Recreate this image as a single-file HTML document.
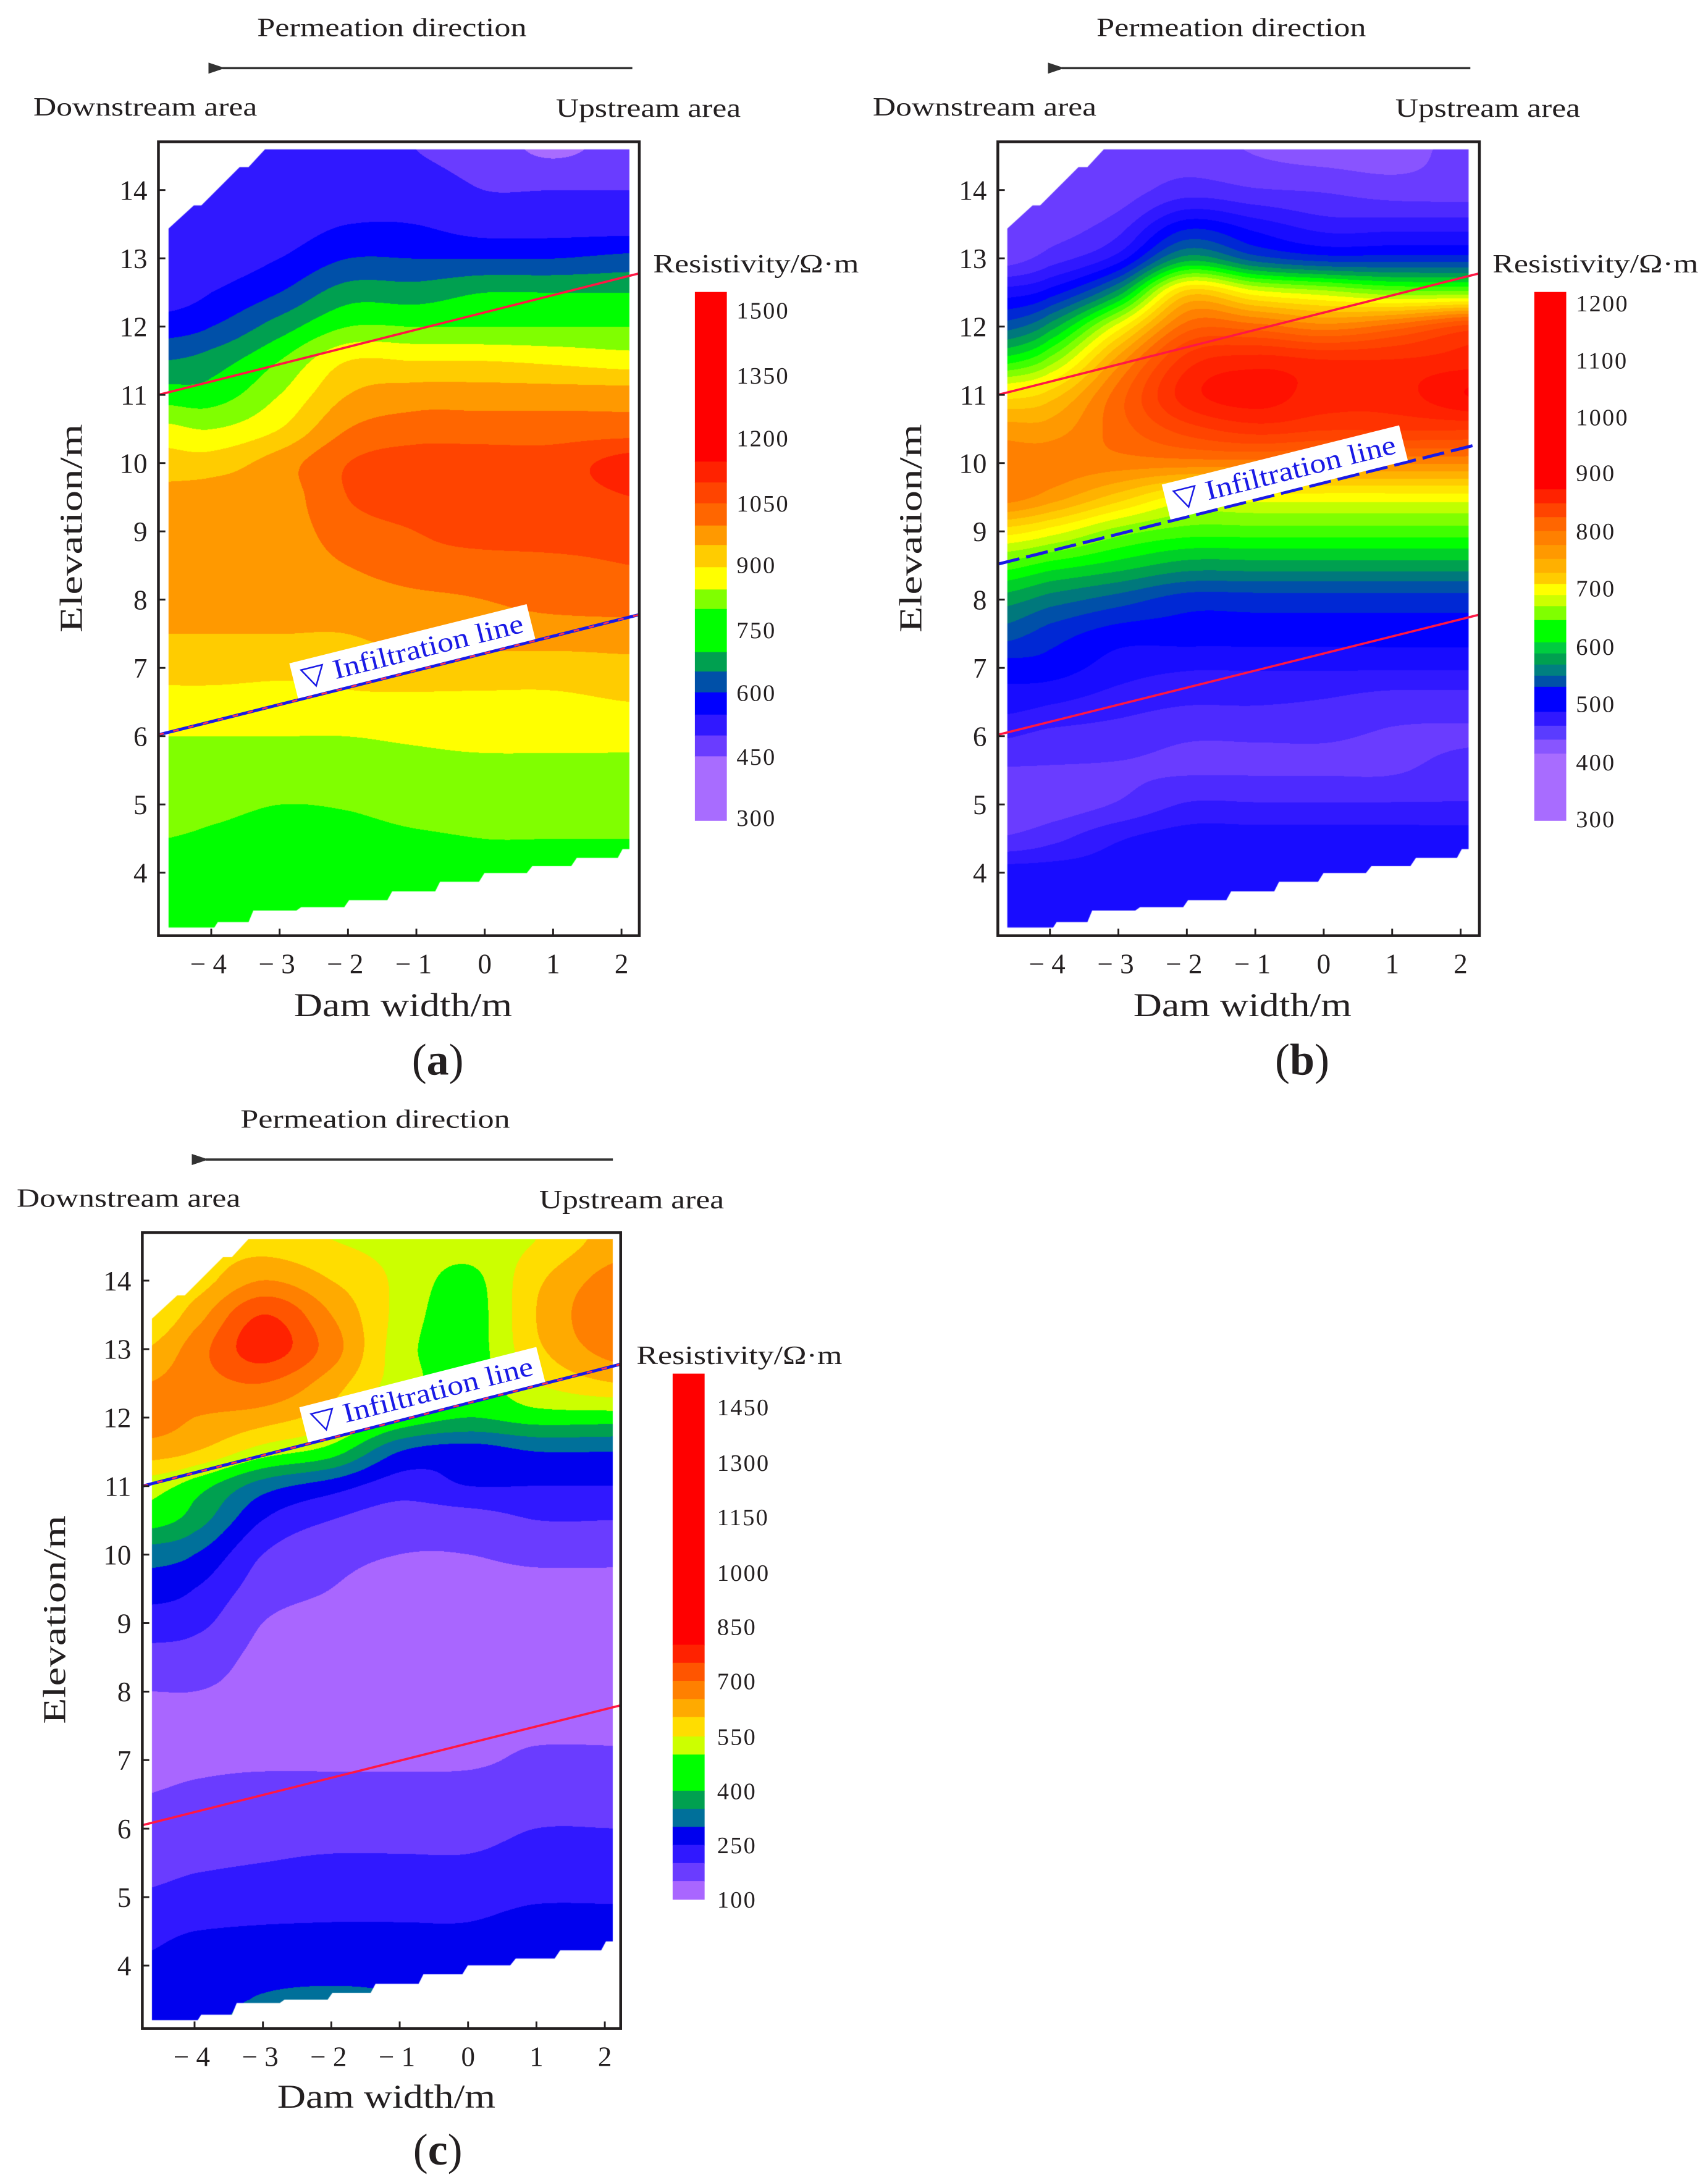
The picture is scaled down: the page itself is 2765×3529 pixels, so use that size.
<!DOCTYPE html>
<html><head><meta charset="utf-8">
<style>
html,body{margin:0;padding:0;background:#fff;}
#wrap{position:relative;width:2765px;height:3529px;overflow:hidden;background:#fff;}
canvas{position:absolute;}
#ov{position:absolute;left:0;top:0;}
text{font-family:"Liberation Serif",serif;fill:#231f20;}
</style></head>
<body>
<div id="wrap">
<canvas id="cA"></canvas>
<canvas id="cB"></canvas>
<canvas id="cC"></canvas>
<svg id="ov" width="2765" height="3529" viewBox="0 0 1229 1568" preserveAspectRatio="none">
 <defs><marker id="ah" markerWidth="12" markerHeight="8" refX="2" refY="4" orient="auto" markerUnits="userSpaceOnUse"><path d="M12,0 L0,4 L12,8 z" fill="#333"/></marker></defs>
 <g>
  <text x="185" y="26" font-size="19" textLength="194" lengthAdjust="spacingAndGlyphs">Permeation direction</text>
  <line x1="455" y1="49" x2="160" y2="49" stroke="#333" stroke-width="1.6" marker-end="url(#ah)"/>
  <text x="24" y="83" font-size="19" textLength="161" lengthAdjust="spacingAndGlyphs">Downstream area</text>
  <text x="400" y="84" font-size="19" textLength="133" lengthAdjust="spacingAndGlyphs">Upstream area</text>
 </g>
 <g>
  <text x="789" y="26" font-size="19" textLength="194" lengthAdjust="spacingAndGlyphs">Permeation direction</text>
  <line x1="1058" y1="49" x2="764" y2="49" stroke="#333" stroke-width="1.6" marker-end="url(#ah)"/>
  <text x="628" y="83" font-size="19" textLength="161" lengthAdjust="spacingAndGlyphs">Downstream area</text>
  <text x="1004" y="84" font-size="19" textLength="133" lengthAdjust="spacingAndGlyphs">Upstream area</text>
 </g>
 <g>
  <text x="173" y="811" font-size="19" textLength="194" lengthAdjust="spacingAndGlyphs">Permeation direction</text>
  <line x1="441" y1="834" x2="148" y2="834" stroke="#333" stroke-width="1.6" marker-end="url(#ah)"/>
  <text x="12" y="868" font-size="19" textLength="161" lengthAdjust="spacingAndGlyphs">Downstream area</text>
  <text x="388" y="869" font-size="19" textLength="133" lengthAdjust="spacingAndGlyphs">Upstream area</text>
 </g>
 <text x="59" y="380" font-size="23" text-anchor="middle" textLength="150" lengthAdjust="spacingAndGlyphs" transform="rotate(-90 59 380)">Elevation/m</text>
 <text x="663" y="380" font-size="23" text-anchor="middle" textLength="150" lengthAdjust="spacingAndGlyphs" transform="rotate(-90 663 380)">Elevation/m</text>
 <text x="47" y="1165" font-size="23" text-anchor="middle" textLength="150" lengthAdjust="spacingAndGlyphs" transform="rotate(-90 47 1165)">Elevation/m</text>
 <text x="290" y="731" font-size="24" text-anchor="middle" textLength="157" lengthAdjust="spacingAndGlyphs">Dam width/m</text>
 <text x="894" y="731" font-size="24" text-anchor="middle" textLength="157" lengthAdjust="spacingAndGlyphs">Dam width/m</text>
 <text x="278" y="1516" font-size="24" text-anchor="middle" textLength="157" lengthAdjust="spacingAndGlyphs">Dam width/m</text>
 <text x="315" y="773" font-size="32" text-anchor="middle">(<tspan font-weight="bold">a</tspan>)</text>
 <text x="937" y="773" font-size="32" text-anchor="middle">(<tspan font-weight="bold">b</tspan>)</text>
 <text x="315" y="1557" font-size="32" text-anchor="middle">(<tspan font-weight="bold">c</tspan>)</text>
 <text x="470" y="196" font-size="19" textLength="148" lengthAdjust="spacingAndGlyphs">Resistivity/Ω·m</text>
 <text x="1074" y="196" font-size="19" textLength="148" lengthAdjust="spacingAndGlyphs">Resistivity/Ω·m</text>
 <text x="458" y="981" font-size="19" textLength="148" lengthAdjust="spacingAndGlyphs">Resistivity/Ω·m</text>
 <g id="dyn"></g>
</svg>
</div>
<script>
// grid axes (data coordinates)
const gridX=[-4.7,-4,-3,-2,-1,0,1,2.2];
const gridE=[14.6,14,13.5,13,12.5,12,11.5,11,10.5,10,9.5,9,8.5,8,7.5,7,6.5,6,5.5,5,4.5,4,3.5,3.2];
// resistivity band index (0 = lowest band of colorbar)
const levelA=[
[2,2,2,2,1.5,1,0.3,1],[2,2,2,2,2,1.5,1.5,1.5],[2,2,2,2.5,2.5,2,2,2],[2,2,2.5,3.5,3.5,3.5,3.5,3.8],
[2,2.5,3.5,5,5,5.5,5.5,5.5],[3,3.5,5,6.5,6.5,6.5,6.5,6.5],[4.5,5,6.5,8.5,8.5,8.5,8.3,8],[6,6,7.5,9.5,10,10,10,10],
[7.8,7.5,8.5,10.5,11,11,11,11],[9,9,10,11.5,12,12,12,13],[9.8,10,10,11.5,12,12,12,12.5],[10,10,10,11,11.5,12,12,12],
[10,10,10,10.5,11,11,11.2,11.5],[10,10,10,10,10.3,10.5,10.8,11],[9.5,9.5,9.5,9.5,10,10,10,10],[9,9,8.8,8.8,9,9,9,9.2],
[8,8,8,8.3,8.3,8.3,8.3,8.5],[7.5,7.5,7.5,7.5,7.7,8,8,8],[7,7,7,7,7,7,7,7],[7,6.8,6.5,6.6,7,7,7,7],
[6.5,6.3,6,6,6.3,6.5,6.5,6.5],[6,6,6,6,6,6,6,6],[6,6,6,6,6,6,6,6],[6,6,6,6,6,6,6,6]];
const levelB=[
[1,1,1,1,0.7,0.5,0.5,1],[1,1,1,1.5,1.3,1.2,1,1],[1,1,1.5,3,2.5,2,2,2],[1,1.5,2.5,5,4,3.5,3.5,3.5],
[2.5,3,5,9,8,7.5,7,7],[4,5,8,11,11,10.5,11,12],[6,7,10,12.5,13,12.8,12.8,13],[8.5,9,11,13,13.5,13,13,13.8],
[10,10,11,12,12.5,12.3,12.3,12.3],[10.5,10.5,10.5,10.5,10.5,10.3,10.3,10.3],[10.5,10,9,8,8,8,8,8],[8.5,8,7,6.5,6.5,6.5,6.5,6.5],
[6.5,6,5.5,5,5,5,5,5],[5,4.5,4,3.5,3.5,3.5,3.5,3.5],[4,3.5,3,3,3,3,3,3],[3,3,2.5,2.3,2.3,2.3,2.3,2.3],
[2.5,2.3,2,1.8,1.8,1.7,1.5,1.5],[1.8,1.6,1.5,1.3,1.3,1.3,1.2,1.2],[1.2,1.2,1.2,1.2,1.2,1.2,1.2,1.5],[1,1,1.3,1.8,1.8,1.8,1.8,1.8],
[1.3,1.6,2.2,2.5,2.5,2.5,2.5,2.5],[2.5,2.5,2.5,2.6,2.6,2.6,2.6,2.6],[2.6,2.6,2.6,2.6,2.6,2.6,2.6,2.6],[2.6,2.6,2.6,2.6,2.6,2.6,2.6,2.6]];
const levelC=[
[8,8,8,7.5,7.2,7,7.5,9],[7.5,8,9.5,8.5,7.3,6.2,8.3,10],[7.5,9,11.5,9.5,7.2,6,8.5,10.5],[8.5,10,12,10,7,6,8.3,10],
[9.5,10,10.5,9,7,6,7.5,8.5],[10,9.5,9,8,6.3,5.5,6,6],[9,8.5,7,6,3.5,3,3.5,3.5],[7,6,4,3,2,2.5,2.5,2.5],
[6,5,2.5,1.5,1,1,1.5,1.5],[4,3.5,1.5,0.8,0.5,0.5,0.7,0.7],[3,2.5,1,0.5,0.3,0.3,0.3,0.3],[2,1.8,0.5,0.3,0.3,0.3,0.3,0.3],
[1.2,1,0.3,0.3,0.3,0.3,0.3,0.3],[0.5,0.5,0.3,0.3,0.3,0.3,0.3,0.3],[0.3,0.3,0.3,0.3,0.3,0.3,0.3,0.3],[0.3,0.3,0.3,0.3,0.3,0.3,0.7,0.7],
[0.5,0.7,1,1,1,1.1,1.3,1.3],[1,1.2,1.3,1.3,1.3,1.3,1.5,1.5],[1.3,1.4,1.5,1.6,1.6,1.6,1.8,1.8],[1.6,1.8,2,2.2,2.2,2.2,2.4,2.4],
[2.3,2.5,2.6,2.6,2.6,2.6,2.8,2.8],[2.6,2.8,3,3,3,3,3,3],[3,3,3.6,3.8,3.6,3.2,3,3],[3,3,4,4,3.8,3.2,3,3]];
const paletteAB=['#a86cff','#6a3cff','#3018ff','#0000ff','#0050a8','#00a050','#00ff00','#80ff00','#ffff00','#ffcc00','#ff9900','#ff6600','#ff4400','#ff2200','#ff0000'];
const paletteC=['#a966ff','#6a3cff','#3018ff','#0000ee','#00709a','#00a050','#00ff00','#ccff00','#ffdd00','#ffaa00','#ff8000','#ff5500','#ff2200','#ff0000','#ff0000'];
const yTicks=[4,5,6,7,8,9,10,11,12,13,14];
const xTicks=[-4,-3,-2,-1,0,1,2];
const cbLabelsA=[1500,1350,1200,1050,900,750,600,450,300];
const cbLabelsB=[1200,1100,1000,900,800,700,600,500,400,300];
const cbLabelsC=[1450,1300,1150,1000,850,700,550,400,250,100];
const cbColorsA=['#ff0000','#ff2200','#ff4400','#ff6600','#ff9900','#ffcc00','#ffff00','#80ff00','#00ff00','#00a050','#0050a8','#0000ff','#3018ff','#6a3cff','#a86cff'];
const cbStopsA=[210,332,347,362,378,392,408,424,438,469,483,498,514,529,544,590];
const cbColorsB=['#ff0000','#ff2200','#ff4400','#ff6600','#ff8000','#ff9900','#ffb000','#ffcc00','#ffff00','#ccff00','#80ff00','#00ff00','#00cc40','#00a050','#008080','#0050a8','#0000ff','#3018ff','#5a3cff','#8855ff','#a86cff'];
const cbStopsB=[210,352,362,372,382,392,402,412,420,428,436,446,462,470,478,486,494,512,522,532,542,590];
const cbColorsC=['#ff0000','#ff2200','#ff5500','#ff8000','#ffaa00','#ffdd00','#ccff00','#00ff00','#00a050','#00709a','#0000ee','#3018ff','#6a3cff','#a966ff'];
const cbStopsC=[988,1183,1196,1209,1222,1235,1249,1262,1288,1301,1314,1327,1340,1353,1366];
// domain outline (data coords)
const domainTop=[[-4.62,13.44],[-4.25,13.78],[-4.14,13.78],[-3.58,14.34],[-3.45,14.34],[-3.21,14.6],[2.12,14.6]];
const domainBottom=[[-4.62,3.2],[-3.95,3.2],[-3.9,3.28],[-3.45,3.28],[-3.38,3.45],[-2.75,3.45],[-2.68,3.5],[-2.05,3.5],[-1.98,3.6],[-1.42,3.6],[-1.35,3.73],[-0.72,3.73],[-0.65,3.87],[-0.08,3.87],[0,4.0],[0.62,4.0],[0.7,4.1],[1.27,4.1],[1.35,4.22],[1.95,4.22],[2.02,4.35],[2.12,4.35]];

const SX=2765/1229, SY=3529/1568;
const NS='http://www.w3.org/2000/svg';
const dyn=document.getElementById('dyn');
function el(tag,attrs,parent){const e=document.createElementNS(NS,tag);for(const k in attrs)e.setAttribute(k,attrs[k]);(parent||dyn).appendChild(e);return e;}

const panels=[
 {key:'a',canvas:'cA',grid:levelA,pal:paletteAB,half:false,fx:[114,460],fy:[102,673],x0:152,kx:49.2,y0:136.7,ky:49.1,
  red:[[11.0,12.78]],infil:[6.02,7.78],infStyle:'mixed',labelX:-0.99,cb:{x:500,w:23,colors:cbColorsA,stops:cbStopsA,labels:cbLabelsA,ly:[223,270,315,362,406,453,498,544,588],lx:530}},
 {key:'b',canvas:'cB',grid:levelB,pal:paletteAB,half:true,fx:[718,1064.5],fy:[102,673],x0:755.5,kx:49.25,y0:136.7,ky:49.1,
  red:[[11.0,12.78],[6.02,7.78]],infil:[8.52,10.28],infStyle:'dash',labelX:-0.5,cb:{x:1104,w:23,colors:cbColorsB,stops:cbStopsB,labels:cbLabelsB,ly:[218,259,300,340,382,423,465,506,548,589],lx:1134}},
 {key:'c',canvas:'cC',grid:levelC,pal:paletteC,half:false,fx:[102.4,446.6],fy:[886.6,1459],x0:140,kx:49.2,y0:921.1,ky:49.27,
  red:[[6.05,7.8]],infil:[11.0,12.78],infStyle:'mixed',labelX:-0.6,cb:{x:484,w:23,colors:cbColorsC,stops:cbStopsC,labels:cbLabelsC,ly:[1012,1052,1091,1131,1170,1209,1249,1288,1327,1366],lx:516}}
];

function locate(arr,v){
  const asc=arr[1]>arr[0];const n=arr.length;
  for(let i=0;i<n-1;i++){const a=arr[i],b=arr[i+1];
    if(asc?(v<=b||i==n-2):(v>=b||i==n-2)){let t=(v-a)/(b-a);t=Math.max(0,Math.min(1,t));return [i,t];}}
  return [n-2,1];
}
function cr(p0,p1,p2,p3,t){const t2=t*t,t3=t2*t;return 0.5*((2*p1)+(-p0+p2)*t+(2*p0-5*p1+4*p2-p3)*t2+(-p0+3*p1-3*p2+p3)*t3);}
function sample(g,x,e){
  const [i,tx]=locate(gridX,x),[j,ty]=locate(gridE,e);
  const nc=gridX.length,nr=gridE.length;const rows=[];
  for(let r=j-1;r<=j+2;r++){const rr=Math.max(0,Math.min(nr-1,r));const row=g[rr];
    const c=k=>row[Math.max(0,Math.min(nc-1,k))];
    rows.push(cr(c(i-1),c(i),c(i+1),c(i+2),tx));}
  return cr(rows[0],rows[1],rows[2],rows[3],ty);
}
function hex(h){return [parseInt(h.substr(1,2),16),parseInt(h.substr(3,2),16),parseInt(h.substr(5,2),16)];}

panels.forEach(p=>{
  const X=v=>p.x0+(v+4)*p.kx, Y=e=>p.y0+(14-e)*p.ky;
  const iX=d=>(d-p.x0)/p.kx-4, iY=d=>14-(d-p.y0)/p.ky;
  const cv=document.getElementById(p.canvas);
  const W=Math.round((p.fx[1]-p.fx[0])*SX),H=Math.round((p.fy[1]-p.fy[0])*SY);
  cv.width=W;cv.height=H;cv.style.left=(p.fx[0]*SX)+'px';cv.style.top=(p.fy[0]*SY)+'px';
  const tmp=document.createElement('canvas');tmp.width=W;tmp.height=H;
  const tctx=tmp.getContext('2d');const img=tctx.createImageData(W,H);
  const pal=p.pal.map(hex);
  for(let py=0;py<H;py++){const e=iY(p.fy[0]+(py+0.5)/SY);
    for(let px=0;px<W;px++){const x=iX(p.fx[0]+(px+0.5)/SX);
      let L=sample(p.grid,x,e);let c;
      if(p.half){const q=Math.max(0,Math.min(14,Math.round(L*2)/2));const a=pal[Math.floor(q)],b=pal[Math.ceil(q)];c=[(a[0]+b[0])/2,(a[1]+b[1])/2,(a[2]+b[2])/2];}
      else{c=pal[Math.max(0,Math.min(14,Math.round(L)))];}
      const o=(py*W+px)*4;img.data[o]=c[0];img.data[o+1]=c[1];img.data[o+2]=c[2];img.data[o+3]=255;}}
  tctx.putImageData(img,0,0);
  const ctx=cv.getContext('2d');
  const poly=domainTop.concat(domainBottom.slice().reverse());
  ctx.beginPath();
  poly.forEach((pt,k)=>{const cx=(X(pt[0])-p.fx[0])*SX,cy=(Y(pt[1])-p.fy[0])*SY;k?ctx.lineTo(cx,cy):ctx.moveTo(cx,cy);});
  ctx.closePath();ctx.clip();ctx.drawImage(tmp,0,0);

  const g=el('g',{});
  
  
  p.red.forEach((r,k)=>{const ln=el('line',{x1:p.fx[0],y1:Y(r[0]),x2:p.fx[1],y2:Y(r[1]),stroke:'#ff1744','stroke-width':1.6},g);
    
    });
  const iy1=Y(p.infil[0]),iy2=Y(p.infil[1]);
  if(p.infStyle==='mixed'){
    const b=el('line',{x1:p.fx[0],y1:iy1,x2:p.fx[1],y2:iy2,stroke:'#1a1ae6','stroke-width':2.2},g);
    
    
    const r=el('line',{x1:p.fx[0],y1:iy1,x2:p.fx[1],y2:iy2,stroke:'#ff3050','stroke-width':1.2,'stroke-dasharray':'4 7'},g);
    
    
  } else {
    const b=el('line',{x1:p.fx[0],y1:iy1,x2:p.fx[1],y2:iy2,stroke:'#1a1ae6','stroke-width':2.2,'stroke-dasharray':'16 5'},g);
    
    
  }
  const ang=Math.atan2(iy2-iy1,p.fx[1]-p.fx[0])*180/Math.PI;
  const lx=X(p.labelX);const ly=iy1+(iy2-iy1)*(lx-p.fx[0])/(p.fx[1]-p.fx[0]);
  const lg=el('g',{transform:`translate(${lx},${ly}) rotate(${ang})`},g);
  
  
  el('rect',{x:-88,y:-27,width:176,height:26,fill:'#fff'},lg);
  const t=el('text',{x:0,y:-8,'font-size':20,'text-anchor':'middle',textLength:164,lengthAdjust:'spacingAndGlyphs',style:'fill:#1a1ae6'},lg);
  t.textContent='▽ Infiltration line';
  const fr=el('rect',{x:p.fx[0],y:p.fy[0],width:p.fx[1]-p.fx[0],height:p.fy[1]-p.fy[0],fill:'none',stroke:'#231f20','stroke-width':2},g);
  
  
  yTicks.forEach(v=>{const y=Y(v);
    const tk=el('line',{x1:p.fx[0],y1:y,x2:p.fx[0]+5,y2:y,stroke:'#231f20','stroke-width':1.3},g);
    
    
    const tl=el('text',{x:p.fx[0]-8,y:y+7,'font-size':20,'text-anchor':'end'},g);
    
    
    tl.textContent=String(v);});
  xTicks.forEach(v=>{const x=X(v);
    const tk=el('line',{x1:x,y1:p.fy[1],x2:x,y2:p.fy[1]-5,stroke:'#231f20','stroke-width':1.3},g);
    
    
    const tl=el('text',{x:v<0?x-2:x,y:p.fy[1]+27,'font-size':20,'text-anchor':'middle'},g);
    
    
    tl.textContent=v<0?'\u2212 '+Math.abs(v):String(v);});
  const cb=p.cb;
  const cbg=el('g',{},g);
  
  
  cb.colors.forEach((c,k)=>{const r=el('rect',{x:cb.x,y:cb.stops[k],width:cb.w,height:cb.stops[k+1]-cb.stops[k]+0.4,fill:c},cbg);
    
    });
  cb.labels.forEach((v,k)=>{const t=el('text',{x:cb.lx,y:cb.ly[k]+6,'font-size':17,'letter-spacing':1},cbg);
    
    
    t.textContent=String(v);});
});
</script>
</body></html>
